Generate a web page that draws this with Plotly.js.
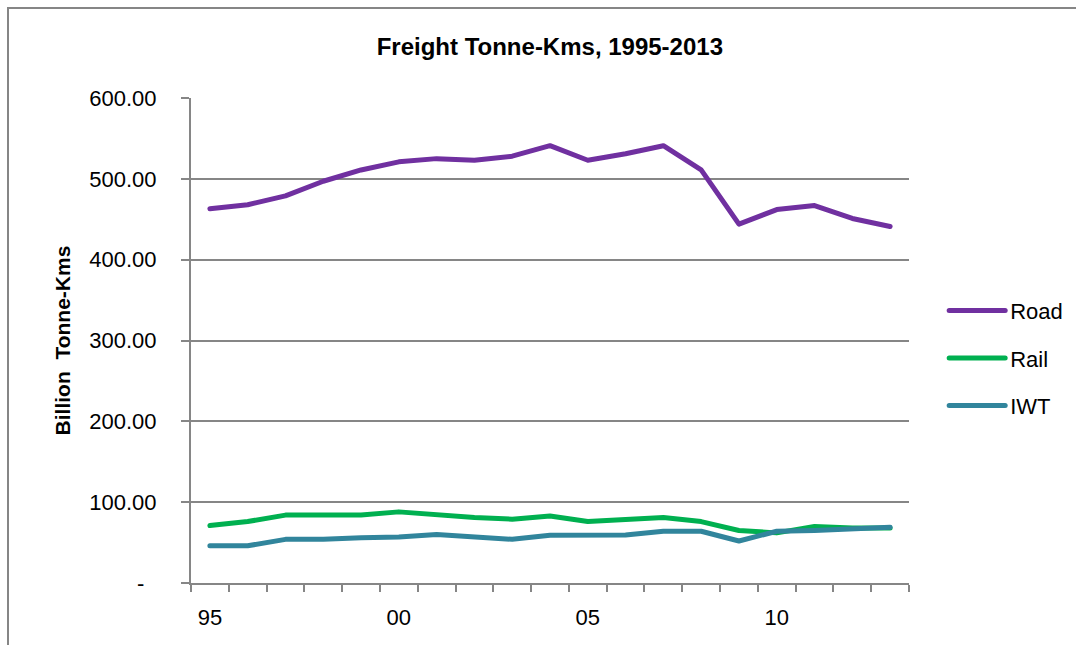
<!DOCTYPE html>
<html>
<head>
<meta charset="utf-8">
<script src="https://cdn.plot.ly/plotly-3.0.1.min.js"></script>
<style>
  html, body { margin: 0; padding: 0; background: #fff; }
  #wrap { position: relative; width: 1076px; height: 645px; overflow: hidden; }
  #chart { position: absolute; left: 0; top: 0; width: 1076px; height: 645px; }
  #frame { position: absolute; left: 7px; top: 7px; width: 1200px; height: 800px;
           border-left: 2px solid #868686; border-top: 2px solid #868686; pointer-events: none; }
  .scatterlayer path.js-line, .legendlines path { stroke-linecap: round; stroke-linejoin: round; }
</style>
</head>
<body>
<div id="wrap">
  <div id="chart"></div>
  <div id="frame"></div>
</div>
<script>
var years = [1995, 1996, 1997, 1998, 1999, 2000, 2001, 2002, 2003, 2004, 2005, 2006, 2007, 2008, 2009, 2010, 2011, 2012, 2013];
var road = [463, 468, 479, 497, 511, 521, 525, 523, 528, 541, 523, 531, 541, 511, 444, 462, 467, 451, 441];
var rail = [71, 76, 84, 84, 84, 88, 84, 81, 79, 83, 76, 79, 81, 76, 65, 62, 70, 68, 68];
var iwt  = [46, 46, 54, 54, 56, 57, 60, 57, 54, 59, 59.5, 59.5, 64, 64, 52, 64, 65, 67, 69];
var xTickVals = [1995, 2000, 2005, 2010];
var xTickText = ["95", "00", "05", "10"];
var yTickVals = [0, 100, 200, 300, 400, 500, 600];
var yTickText = ["-\u00a0\u00a0", "100.00", "200.00", "300.00", "400.00", "500.00", "600.00"];

var FONT = '"Liberation Sans", Arial, sans-serif';
var GRID = '#868686';

var traces = [
  {x: years, y: road, name: 'Road', mode: 'lines', line: {color: '#7030A0', width: 5}, legendgroup: 'a'},
  {x: years, y: rail, name: 'Rail', mode: 'lines', line: {color: '#00B050', width: 5}, legendgroup: 'b'},
  {x: years, y: iwt,  name: 'IWT',  mode: 'lines', line: {color: '#31859C', width: 5}, legendgroup: 'c'}
];

var layout = {
  width: 1076, height: 645,
  paper_bgcolor: '#ffffff', plot_bgcolor: '#ffffff',
  margin: {l: 191, r: 167, t: 98, b: 62, autoexpand: false},
  font: {family: FONT, size: 22, color: '#000'},
  title: {text: '<b>Freight Tonne-Kms, 1995-2013</b>', font: {family: FONT, size: 24, color: '#000'},
          x: 0.511, xanchor: 'center', y: 0.927, yanchor: 'middle'},
  showlegend: true,
  legend: {x: 1.049, xanchor: 'left', y: 0.605, yanchor: 'top', traceorder: 'grouped', tracegroupgap: 16,
           itemwidth: 56, font: {family: FONT, size: 22, color: '#000'}, bgcolor: 'rgba(0,0,0,0)'},
  xaxis: {
    range: [1994.5, 2013.5], tickmode: 'array', tickvals: xTickVals, ticktext: xTickText,
    ticks: '', showgrid: false, zeroline: false,
    showline: true, linecolor: GRID, linewidth: 2,
    ticklabelstandoff: 14,
    tickfont: {family: FONT, size: 22, color: '#000'},
    minor: {tick0: 1994.5, dtick: 1, ticks: 'outside', ticklen: 7, tickwidth: 2, tickcolor: GRID, showgrid: false}
  },
  yaxis: {
    range: [0, 600], tickmode: 'array', tickvals: yTickVals, ticktext: yTickText,
    ticks: 'outside', ticklen: 8, tickwidth: 2, tickcolor: GRID,
    showgrid: true, gridcolor: GRID, gridwidth: 2, zeroline: false,
    showline: true, linecolor: GRID, linewidth: 2,
    ticklabelstandoff: 20,
    tickfont: {family: FONT, size: 22, color: '#000'},
    title: {text: '<b>Billion\u00a0 Tonne-Kms</b>', font: {family: FONT, size: 21, color: '#000'}, standoff: 13}
  },
  hovermode: false
};

Plotly.newPlot('chart', traces, layout, {displayModeBar: false, staticPlot: true});
</script>
</body>
</html>
